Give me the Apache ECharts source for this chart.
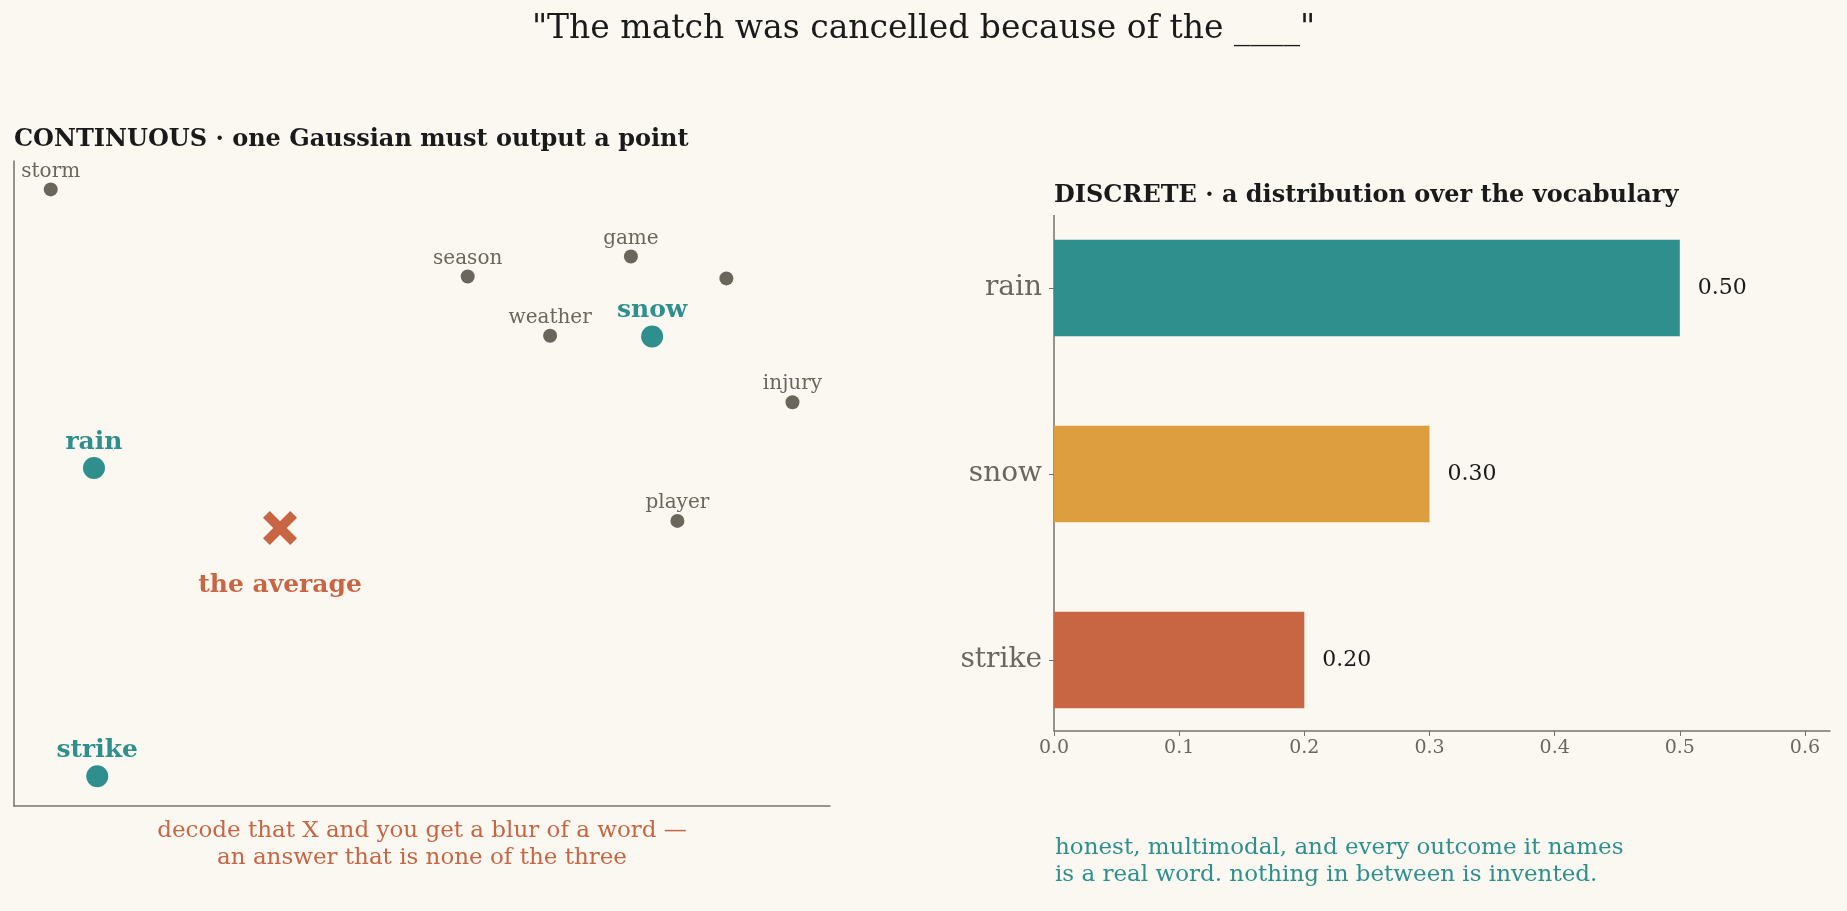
<!DOCTYPE html>
<html>
<head>
<meta charset="utf-8">
<script src="https://cdn.jsdelivr.net/npm/echarts@6/dist/echarts.min.js"></script>
<style>html,body{margin:0;padding:0;background:#fbf8f2;}#main{width:1847px;height:911px;}</style>
</head>
<body>
<div id="main"></div>
<script>
// words in the 2D embedding sketch
var otherWords = ['storm', 'season', 'game', '', 'weather', 'injury', 'player'];
var otherPts = [[4.5, 95.6], [55.6, 82.1], [75.6, 85.2], [87.3, 81.8], [65.7, 72.9], [95.4, 62.6], [81.3, 44.2]];
var keyWords = ['snow', 'rain', 'strike'];
var keyPts = [[78.2, 72.8], [9.8, 52.4], [10.2, 4.6]];
var avgPt = [32.6, 43.1];

// discrete distribution
var vocab = ['strike', 'snow', 'rain'];
var probs = [0.20, 0.30, 0.50];
var barColors = ['#c86644', '#dd9e3f', '#2e8f8c'];
var xTicks = [0, 0.1, 0.2, 0.3, 0.4, 0.5, 0.6];

var chart = echarts.init(document.getElementById('main'));
var serif = 'DejaVu Serif';
var axisLine = {show: true, lineStyle: {color: '#77736b', width: 1.5}};

var option = {
  backgroundColor: '#fbf8f2',
  textStyle: {fontFamily: serif},
  title: [
    {text: '"The match was cancelled because of the ____"', left: 'center', top: 8,
      textStyle: {fontFamily: serif, fontSize: 33, fontWeight: 'normal', color: '#1a1a1a'}},
    {text: 'CONTINUOUS · one Gaussian must output a point', left: 14, top: 128, padding: 0,
      textStyle: {fontFamily: serif, fontSize: 24, fontWeight: 'bold', color: '#1a1a1a'}},
    {text: 'DISCRETE · a distribution over the vocabulary', left: 1054, top: 184, padding: 0,
      textStyle: {fontFamily: serif, fontSize: 24, fontWeight: 'bold', color: '#1a1a1a'}},
    {text: 'decode that X and you get a blur of a word —\nan answer that is none of the three', left: 422, top: 818, textAlign: 'center', padding: 0,
      textStyle: {fontFamily: serif, fontSize: 23, fontWeight: 'normal', color: '#c86644', lineHeight: 27, align: 'center'}},
    {text: 'honest, multimodal, and every outcome it names\nis a real word. nothing in between is invented.', left: 1055, top: 835, padding: 0,
      textStyle: {fontFamily: serif, fontSize: 23, fontWeight: 'normal', color: '#2e8f8c', lineHeight: 27}}
  ],
  grid: [
    {left: 14, top: 161, width: 816, height: 645},
    {left: 1054, top: 195, width: 776, height: 558}
  ],
  xAxis: [
    {gridIndex: 0, type: 'value', min: 0, max: 100, axisLine: axisLine, axisTick: {show: false}, axisLabel: {show: false}, splitLine: {show: false}},
    {gridIndex: 1, type: 'value', min: 0, max: 0.62, interval: 0.1, offset: -22, axisLine: axisLine,
      axisTick: {show: true, lineStyle: {color: '#77736b'}},
      axisLabel: {fontFamily: serif, fontSize: 19, color: '#6b675f', formatter: function (v) { return xTicks.indexOf(Math.round(v * 10) / 10) >= 0 ? v.toFixed(1) : ''; }},
      splitLine: {show: false}}
  ],
  yAxis: [
    {gridIndex: 0, type: 'value', min: 0, max: 100, axisLine: axisLine, axisTick: {show: false}, axisLabel: {show: false}, splitLine: {show: false}},
    {gridIndex: 1, type: 'category', data: vocab, axisLine: {show: false},
      axisTick: {show: true, alignWithLabel: true, lineStyle: {color: '#77736b'}},
      axisLabel: {fontFamily: serif, fontSize: 28, color: '#6b675f', margin: 12}}
  ],
  graphic: [
    {type: 'line', shape: {x1: 1054, y1: 215, x2: 1054, y2: 731}, style: {stroke: '#77736b', lineWidth: 1.5}}
  ],
  series: [
    {type: 'scatter', xAxisIndex: 0, yAxisIndex: 0, symbolSize: 14,
      itemStyle: {color: '#6b665c', opacity: 1},
      data: otherPts.map(function (p, i) { return {value: p, name: otherWords[i]}; }),
      label: {show: true, position: 'top', distance: 1, formatter: '{b}', fontFamily: serif, fontSize: 20, color: '#6b665c'}},
    {type: 'scatter', xAxisIndex: 0, yAxisIndex: 0, symbolSize: 22,
      itemStyle: {color: '#2e8f8c', opacity: 1},
      data: keyPts.map(function (p, i) { return {value: p, name: keyWords[i]}; }),
      label: {show: true, position: 'top', distance: 2, formatter: '{b}', fontFamily: serif, fontSize: 25, fontWeight: 'bold', color: '#2e8f8c'}},
    {type: 'scatter', xAxisIndex: 0, yAxisIndex: 0, symbolSize: 34,
      symbol: 'path://M2,0 L5,3 L8,0 L10,2 L7,5 L10,8 L8,10 L5,7 L2,10 L0,8 L3,5 L0,2 Z',
      itemStyle: {color: '#c86644', opacity: 1},
      data: [{value: avgPt, name: 'the average'}],
      label: {show: true, position: 'bottom', distance: 28, formatter: '{b}', fontFamily: serif, fontSize: 25, fontWeight: 'bold', color: '#c86644'}},
    {type: 'bar', xAxisIndex: 1, yAxisIndex: 1, barWidth: '52%',
      data: probs.map(function (v, i) { return {value: v, itemStyle: {color: barColors[i]}}; }),
      label: {show: true, position: 'right', distance: 18, formatter: function (p) { return p.value.toFixed(2); }, fontFamily: serif, fontSize: 22, color: '#1a1a1a'}}
  ]
};

chart.setOption(option);
</script>
</body>
</html>
